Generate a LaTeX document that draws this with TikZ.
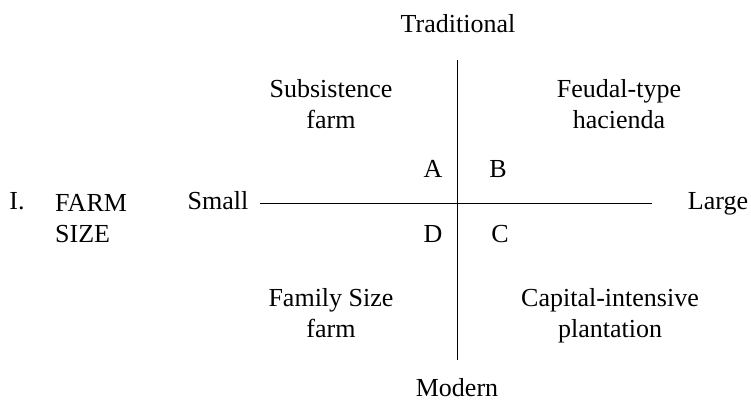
\documentclass[tikz,border=0pt]{standalone}
\usepackage{fontspec}
\setmainfont{Liberation Serif}
\usepackage{tikz}

\begin{document}
\begin{tikzpicture}[x=1pt,y=-1pt]
            \tikzstyle{txt}=[inner sep=0pt,anchor=base,font=\fontsize{26}{31}\selectfont]
            \tikzstyle{cell}=[txt,align=center]
            \tikzstyle{axisline}=[line width=1pt]
            \useasboundingbox (0,0) rectangle (751,402);
            \coordinate (top) at (457,60);
            \coordinate (bottom) at (457,360);
            \coordinate (left) at (260,203);
            \coordinate (right) at (652,203);
            \draw[axisline] (top) -- (bottom);
            \draw[axisline] (left) -- (right);
            \node[txt] (traditional) at (458,32) {Traditional};
            \node[txt] (modern) at (457,396) {Modern};
            \node[txt] (small) at (218,209) {Small};
            \node[txt] (large) at (718,209) {Large};
            \node[txt] (roman) at (17,209) {I.};
            \node[txt,anchor=base west,align=left] (farmsize) at (55,242) {FARM\\SIZE};
            \node[txt] (a) at (433,177) {A};
            \node[txt] (b) at (498,177) {B};
            \node[txt] (d) at (433,242) {D};
            \node[txt] (c) at (500,242) {C};
            \node[cell] (subsistence) at (331,128) {Subsistence\\farm};
            \node[cell] (feudal) at (619,128) {Feudal-type\\hacienda};
            \node[cell] (family) at (331,337) {Family Size\\farm};
            \node[cell] (capital) at (610,337) {Capital-intensive\\plantation};
        \end{tikzpicture}
\end{document}
